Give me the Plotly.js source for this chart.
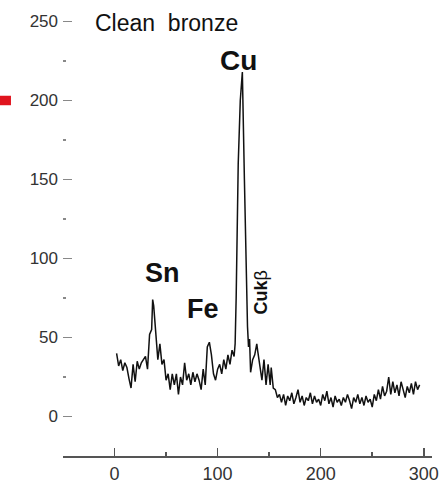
<!DOCTYPE html>
<html>
<head>
<meta charset="utf-8">
<script src="https://cdn.plot.ly/plotly-3.0.1.min.js"></script>
<style>html,body{margin:0;padding:0;background:#fff;}#chart{width:440px;height:483px;}</style>
</head>
<body>
<div id="chart"></div>
<script>
// Spectrum (channel vs counts)
const channel = [2,4,6,8,10,12,14,16,18,20,22,24,26,28,30,32,34,36,37,38,39,41,42,44,46,48,50,52,54,56,58,60,62,64,66,68,70,72,74,76,78,80,82,84,86,88,90,92,94,96,98,100,102,104,106,108,110,112,114,116,117,118,120,122,124,126,128,129,130,131,132,134,136,138,139,141,143,145,147,149,151,152,154,156,158,160,162,164,166,168,170,172,174,176,178,180,182,184,186,188,190,192,194,196,198,200,202,204,206,208,210,212,214,216,218,220,222,224,226,228,230,232,234,236,238,240,242,244,246,248,250,252,254,256,258,260,262,264,266,268,270,272,274,276,278,280,282,284,286,288,290,292,294,296];
const counts = [40,32,36,29,34,31,24,18,33,22,35,30,34,36,38,30,52,55,74,70,61,49,36,46,33,36,23,27,17,27,20,27,14,25,20,34,23,27,20,28,22,27,23,17,30,20,44,47,39,27,23,30,33,27,36,30,39,33,42,38,46,75,160,200,218,150,70,57,44,49,28,36,39,46,41,33,23,36,20,33,20,31,18,17,12,14,9,14,7,13,10,15,8,12,17,9,13,7,12,10,15,8,13,9,11,7,14,10,16,8,12,6,13,9,11,7,12,9,14,10,5,12,9,14,8,12,7,13,9,11,6,14,10,17,11,19,13,16,25,14,22,15,20,13,22,17,12,19,15,21,14,22,17,20];

const yTicks = [0,50,100,150,200,250];
const xTicks = [0,100,200,300];

const labels = [
  {text: "Clean&nbsp;&nbsp;bronze", x: -21, y: 249, size: 23, angle: 0, anchor: "left"},
  {text: "<b>Cu</b>", x: 120, y: 225, size: 28, angle: 0, anchor: "center"},
  {text: "<b>Sn</b>", x: 47, y: 91, size: 27, angle: 0, anchor: "center"},
  {text: "<b>Fe</b>", x: 86, y: 68, size: 27, angle: 0, anchor: "center"},
  {text: "<b>Cuk</b>β", x: 143, y: 78.5, size: 18, angle: -90, anchor: "center"}
];

const font = "Liberation Sans, Arial, sans-serif";

const trace = {
  x: channel, y: counts, type: "scatter", mode: "lines",
  line: {color: "#111", width: 1.5},
  hoverinfo: "skip", showlegend: false
};

const layout = {
  width: 440, height: 483,
  margin: {l: 63, r: 8, t: 0, b: 27, pad: 0},
  paper_bgcolor: "#fff", plot_bgcolor: "#fff",
  font: {family: font, color: "#333", size: 18},
  xaxis: {
    range: [-50, 308], showgrid: false, zeroline: false,
    showline: true, linecolor: "#555", linewidth: 2,
    ticks: "inside", ticklen: 8, tickwidth: 1.5, tickcolor: "#555",
    tickvals: xTicks, ticktext: xTicks.map(String),
    minor: {dtick: 50, tick0: 0, ticks: "inside", ticklen: 4, tickwidth: 1.5, tickcolor: "#555"},
    tickfont: {family: font, size: 18, color: "#333"}
  },
  yaxis: {
    range: [-25, 263.6], showgrid: false, zeroline: false, showline: false,
    ticks: "inside", ticklen: 9, tickwidth: 1.3, tickcolor: "#888",
    tickvals: yTicks, ticktext: yTicks.map(String),
    minor: {dtick: 25, tick0: 0, ticks: "inside", ticklen: 3, tickwidth: 1.3, tickcolor: "#888"},
    tickfont: {family: font, size: 17, color: "#333"},
    ticklabelstandoff: 4
  },
  annotations: labels.map(l => ({
    text: l.text, x: l.x, y: l.y, xref: "x", yref: "y",
    showarrow: false, textangle: l.angle, xanchor: l.anchor, yanchor: "middle",
    font: {family: font, size: l.size, color: "#111"}
  })),
  shapes: [{
    type: "rect", xref: "paper", yref: "y",
    x0: -0.171, x1: -0.141, y0: 197, y1: 203,
    fillcolor: "#e0141e", line: {width: 0}
  }]
};

Plotly.newPlot("chart", [trace], layout, {staticPlot: true, displayModeBar: false});
</script>
</body>
</html>
